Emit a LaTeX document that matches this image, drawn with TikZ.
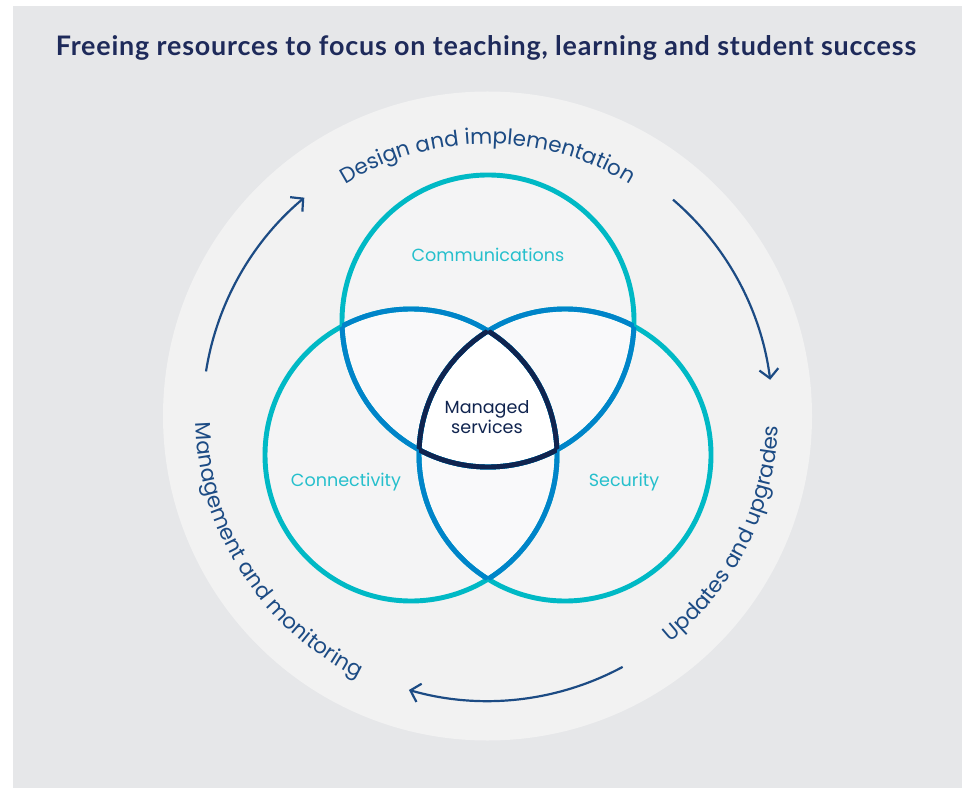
\documentclass[tikz,border=0pt]{standalone}
\usepackage{fontspec}
\setmainfont{Poppins}
\newfontfamily\titlefont{Lato}[LetterSpace=3]
\usepackage{xcolor}
\usepackage{tikz}
\usetikzlibrary{arrows.meta}
\usetikzlibrary{positioning}
\usetikzlibrary{decorations.text}
\definecolor{backgray}{HTML}{E6E7E9}
\definecolor{discgray}{HTML}{F2F2F2}
\definecolor{lobegray}{HTML}{F4F4F5}
\definecolor{overlapgray}{HTML}{F9F9FA}
\definecolor{ringcyan}{HTML}{00B9C5}
\definecolor{ringblue}{HTML}{0084C9}
\definecolor{ringnavy}{HTML}{10244F}
\definecolor{cycleblue}{HTML}{1C4B84}
\definecolor{titlenavy}{HTML}{1E2A5A}
\definecolor{labelcyan}{HTML}{25BFCC}
\newcommand{\curvefont}{\fontsize{12.2}{14}\selectfont\color{cycleblue}}
\tikzset{%
  >={Straight Barb[length=1.8mm,width=3.8mm]},
  % Specifications for style of nodes:
       ring/.style = {line width=2.8pt},
  titletext/.style = {font=\titlefont\bfseries\fontsize{15.3}{17}\selectfont,
                      text=titlenavy},
   lobetext/.style = {font=\fontsize{10}{12}\selectfont, text=labelcyan},
   coretext/.style = {font=\fontsize{10}{11.5}\selectfont, text=ringnavy,
                      align=center},
 cyclearrow/.style = {draw=cycleblue, line width=1.25pt},
  curvetext/.style = {decorate, decoration={text along path,
                      text align=center}},
}

\begin{document}
\begin{tikzpicture}[x=0.02cm, y=0.02cm]
  % Background and outer disc
  \fill[white] (0,0) rectangle (962,788);
  \fill[backgray] (13,0) rectangle (962,782);
  \useasboundingbox (0,0) rectangle (962,788);
  \coordinate (O) at (487.5,372);
  \fill[discgray] (O) circle (324.5);
  % Centres of the three circles
  \def\venr{146}
  \coordinate (comm) at (488,467);
  \coordinate (conn) at (411,333);
  \coordinate (secu) at (565,333);
  % Fills: single, double and triple overlaps
  \foreach \c in {comm,conn,secu} \fill[lobegray] (\c) circle (\venr);
  \foreach \a/\b in {comm/conn,comm/secu,conn/secu} {
    \begin{scope}
      \clip (\a) circle (\venr);
      \fill[overlapgray] (\b) circle (\venr);
    \end{scope}
  }
  \begin{scope}
    \clip (comm) circle (\venr);
    \clip (conn) circle (\venr);
    \fill[white] (secu) circle (\venr);
  \end{scope}
  % Outlines, coloured by how many circles they lie in
  \foreach \c in {comm,conn,secu} \draw[ring, draw=ringcyan] (\c) circle (\venr);
  \foreach \a/\b in {comm/conn,conn/comm,comm/secu,secu/comm,conn/secu,secu/conn} {
    \begin{scope}
      \clip (\b) circle (\venr);
      \draw[ring, draw=ringblue] (\a) circle (\venr);
    \end{scope}
  }
  \foreach \a/\b/\c in {comm/conn/secu,conn/comm/secu,secu/comm/conn} {
    \begin{scope}
      \clip (\b) circle (\venr);
      \clip (\c) circle (\venr);
      \draw[ring, draw=ringnavy] (\a) circle (\venr);
    \end{scope}
  }
  % Labels inside the circles
  \node[titletext] (title) at (486,740)
    {Freeing resources to focus on teaching, learning and student success};
  \node[lobetext] (commlabel) at (488,533) {Communications};
  \node[lobetext] (connlabel) at (346,306) {Connectivity};
  \node[lobetext] (seculabel) at (624,306) {Security};
  \node[coretext] (core) at (487,371) {Managed\\services};
  % Cycle round the outside
  \path[curvetext, decoration={text={|\curvefont|Design and implementation}}]
    (O) ++(130:272) arc[start angle=130, end angle=50, radius=272];
  \path[curvetext, decoration={text={|\curvefont|Updates and upgrades}}]
    (O) ++(-65:291) arc[start angle=-65, end angle=12, radius=291];
  \path[curvetext, decoration={text={|\curvefont|Management and monitoring}}]
    (O) ++(170:292) arc[start angle=170, end angle=255, radius=292];
  \draw[cyclearrow, ->] (O) ++(171:285) arc[start angle=171, end angle=130, radius=285];
  \draw[cyclearrow, ->] (O) ++(49.4:285) arc[start angle=49.4, end angle=7.3, radius=285];
  \draw[cyclearrow, ->] (O) ++(-61.7:285) arc[start angle=-61.7, end angle=-106, radius=285];
\end{tikzpicture}
\end{document}
